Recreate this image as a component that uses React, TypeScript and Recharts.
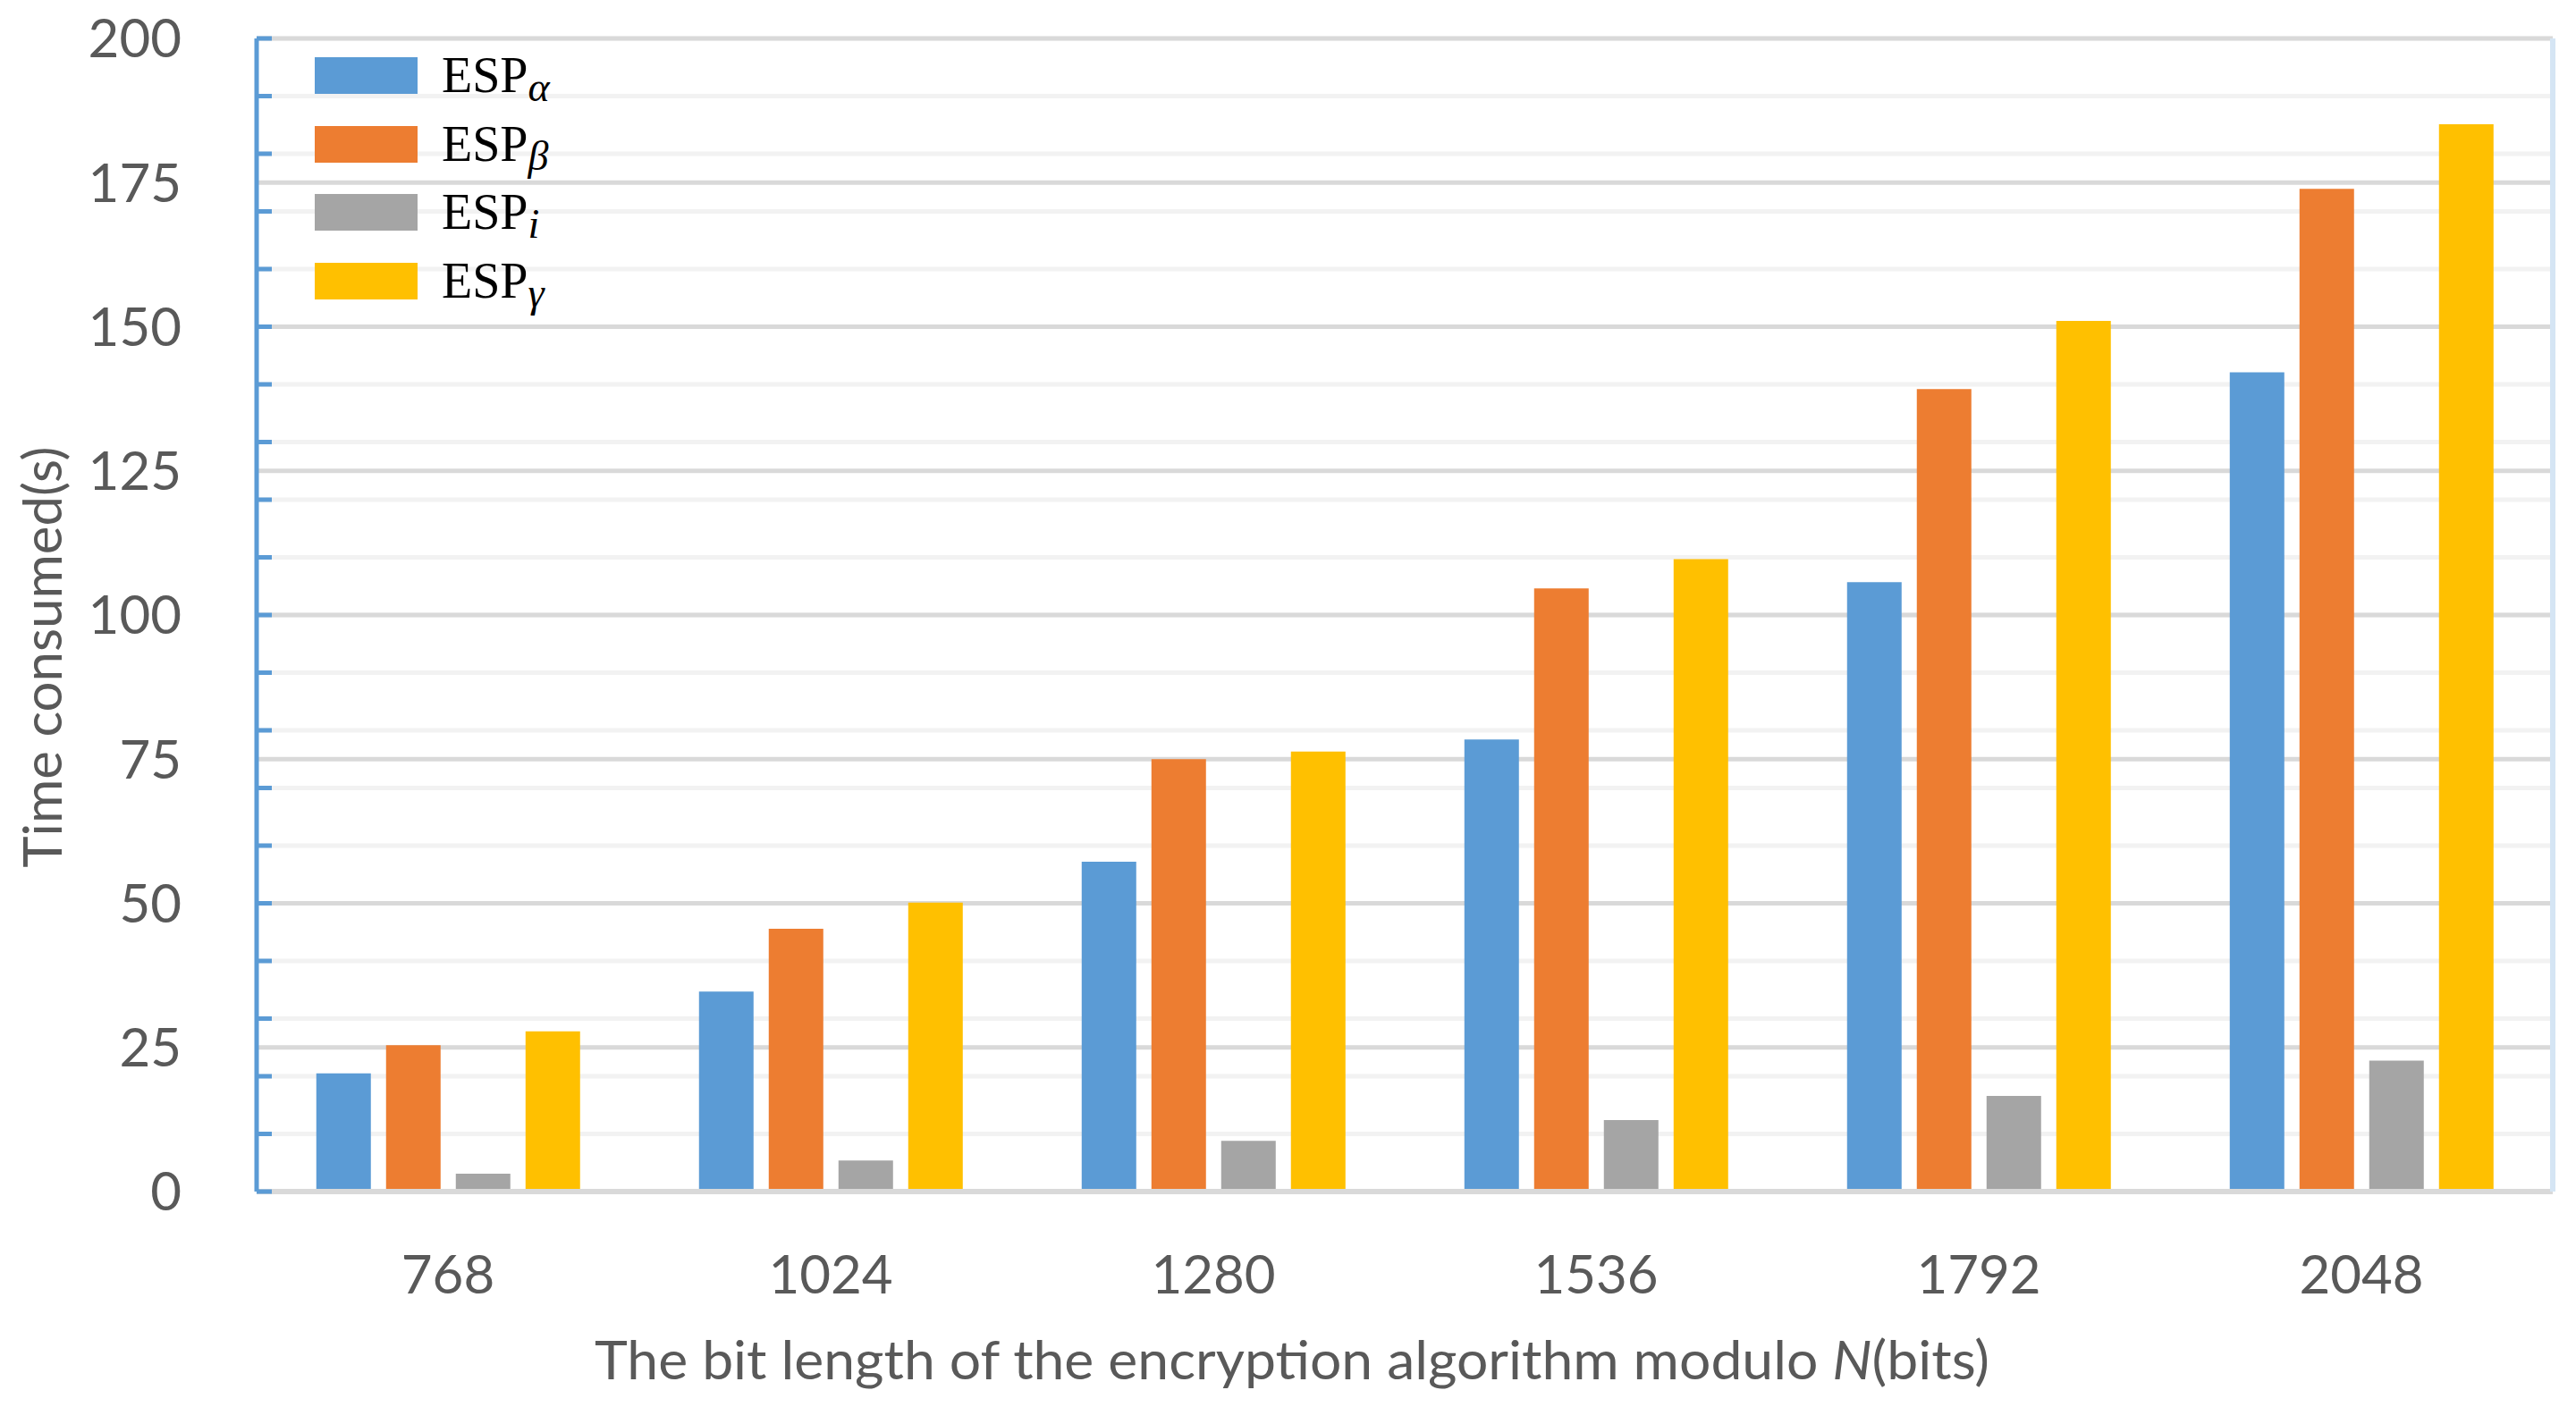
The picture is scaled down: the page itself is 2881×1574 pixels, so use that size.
import React from 'react';
import { BarChart, Bar, XAxis, YAxis, CartesianGrid, Legend } from 'recharts';

const categories = ['768', '1024', '1280', '1536', '1792', '2048'];
const espAlpha = [20.5, 34.7, 57.2, 78.4, 105.7, 142.1];
const espBeta = [25.4, 45.6, 75.0, 104.6, 139.2, 173.9];
const espI = [3.1, 5.4, 8.8, 12.4, 16.6, 22.7];
const espGamma = [27.8, 50.1, 76.3, 109.7, 151.0, 185.1];

const majorTicks = [0, 25, 50, 75, 100, 125, 150, 175, 200];
const minorTicks = [0, 10, 20, 30, 40, 50, 60, 70, 80, 90, 100, 110, 120, 130, 140, 150, 160, 170, 180, 190, 200];

const series = [
  { key: 'alpha', sub: 'α', color: '#5b9bd5', values: espAlpha },
  { key: 'beta', sub: 'β', color: '#ed7d31', values: espBeta },
  { key: 'i', sub: 'i', color: '#a5a5a5', values: espI },
  { key: 'gamma', sub: 'γ', color: '#ffc000', values: espGamma },
];

const rows = categories.map((c, idx) => {
  const r: Record<string, string | number> = { n: c };
  series.forEach((s) => {
    r[s.key] = s.values[idx];
  });
  return r;
});

const TEXT = '#595959';
const FONT = 'Lato, "Open Sans", sans-serif';

const renderLegend = (props: any) => {
  const payload: any[] = props && props.payload ? props.payload : [];
  const items = series.map((s) => {
    const p = payload.find((x) => x.dataKey === s.key);
    return { key: s.key, sub: s.sub, color: (p && p.color) || s.color };
  });
  return (
    <div style={{ display: 'flex', flexDirection: 'column' }}>
      {items.map((it) => (
        <div
          key={it.key}
          style={{ display: 'flex', alignItems: 'flex-end', height: 41, marginBottom: 35.5 }}
        >
          <div style={{ width: 115, height: 41, background: it.color, flex: 'none' }} />
          <span
            style={{
              marginLeft: 27,
              fontFamily: '"Liberation Serif", "DejaVu Serif", serif',
              fontSize: 56,
              lineHeight: 1,
              color: '#000',
              marginBottom: -7,
              whiteSpace: 'nowrap',
            }}
          >
            ESP
            <span style={{ fontStyle: 'italic', fontSize: 46, position: 'relative', top: 10 }}>{it.sub}</span>
          </span>
        </div>
      ))}
    </div>
  );
};

const yTitle = (props: any) => {
  const vb = props.viewBox || { x: 0, y: 0, width: 0, height: 0 };
  const cx = vb.x + 46;
  const cy = vb.y + vb.height / 2 + 47;
  return (
    <text
      x={cx}
      y={cy}
      transform={`rotate(-90 ${cx} ${cy})`}
      textAnchor="middle"
      dominantBaseline="central"
      fill={TEXT}
      style={{ fontFamily: FONT, fontSize: 60 }}
    >
      Time consumed(s)
    </text>
  );
};

const xTitle = (props: any) => {
  const vb = props.viewBox || { x: 0, y: 0, width: 0, height: 0 };
  const cx = vb.x + vb.width / 2 - 126;
  const by = vb.y + 210;
  return (
    <text
      x={cx}
      y={by}
      textAnchor="middle"
      fill={TEXT}
      textLength={1560}
      lengthAdjust="spacingAndGlyphs"
      style={{ fontFamily: FONT, fontSize: 60 }}
    >
      The bit length of the encryption algorithm modulo <tspan fontStyle="italic">N</tspan>(bits)
    </text>
  );
};

const emptyTick = () => <g />;

export default function App() {
  return (
    <div style={{ position: 'absolute', left: 0, top: 0, width: 2881, height: 1574, background: '#fff', fontFamily: FONT }}>
      <BarChart
        width={2881}
        height={1574}
        data={rows}
        margin={{ top: 43, right: 25, bottom: 0, left: 0 }}
        barCategoryGap="15.6%"
        barGap={17}
      >
        <CartesianGrid yAxisId="minor" vertical={false} stroke="#f2f2f2" strokeWidth={5} />
        <CartesianGrid yAxisId="main" vertical={false} stroke="#d9d9d9" strokeWidth={5} />
        <XAxis
          dataKey="n"
          type="category"
          height={241}
          tickLine={false}
          tickSize={0}
          tickMargin={71}
          axisLine={{ stroke: '#d9d9d9', strokeWidth: 6 }}
          tick={{ fill: TEXT, fontSize: 60, fontFamily: FONT }}
          label={xTitle}
        />
        <YAxis
          yAxisId="main"
          orientation="left"
          width={287}
          domain={[0, 200]}
          ticks={majorTicks}
          interval={0}
          allowDataOverflow
          tickLine={false}
          tickSize={0}
          tickMargin={84}
          axisLine={{ stroke: '#5b9bd5', strokeWidth: 5 }}
          tick={{ fill: TEXT, fontSize: 60, fontFamily: FONT }}
          label={yTitle}
        />
        <YAxis
          yAxisId="minor"
          orientation="left"
          mirror
          width={1}
          domain={[0, 200]}
          ticks={minorTicks}
          interval={0}
          allowDataOverflow
          tick={emptyTick}
          tickSize={17}
          tickLine={{ stroke: '#5b9bd5', strokeWidth: 5 }}
          axisLine={false}
        />
        <YAxis
          yAxisId="right"
          orientation="right"
          width={1}
          domain={[0, 200]}
          ticks={majorTicks}
          interval={0}
          tick={emptyTick}
          tickLine={false}
          axisLine={{ stroke: '#d5e5f4', strokeWidth: 6 }}
        />
        <Legend
          layout="vertical"
          align="center"
          verticalAlign="middle"
          content={renderLegend}
          wrapperStyle={{ position: 'absolute', left: 352, top: 64, width: 'auto', height: 'auto' }}
        />
        {series.map((s) => (
          <Bar key={s.key} yAxisId="main" dataKey={s.key} name={`ESP${s.sub}`} fill={s.color} isAnimationActive={false} />
        ))}
      </BarChart>
    </div>
  );
}
